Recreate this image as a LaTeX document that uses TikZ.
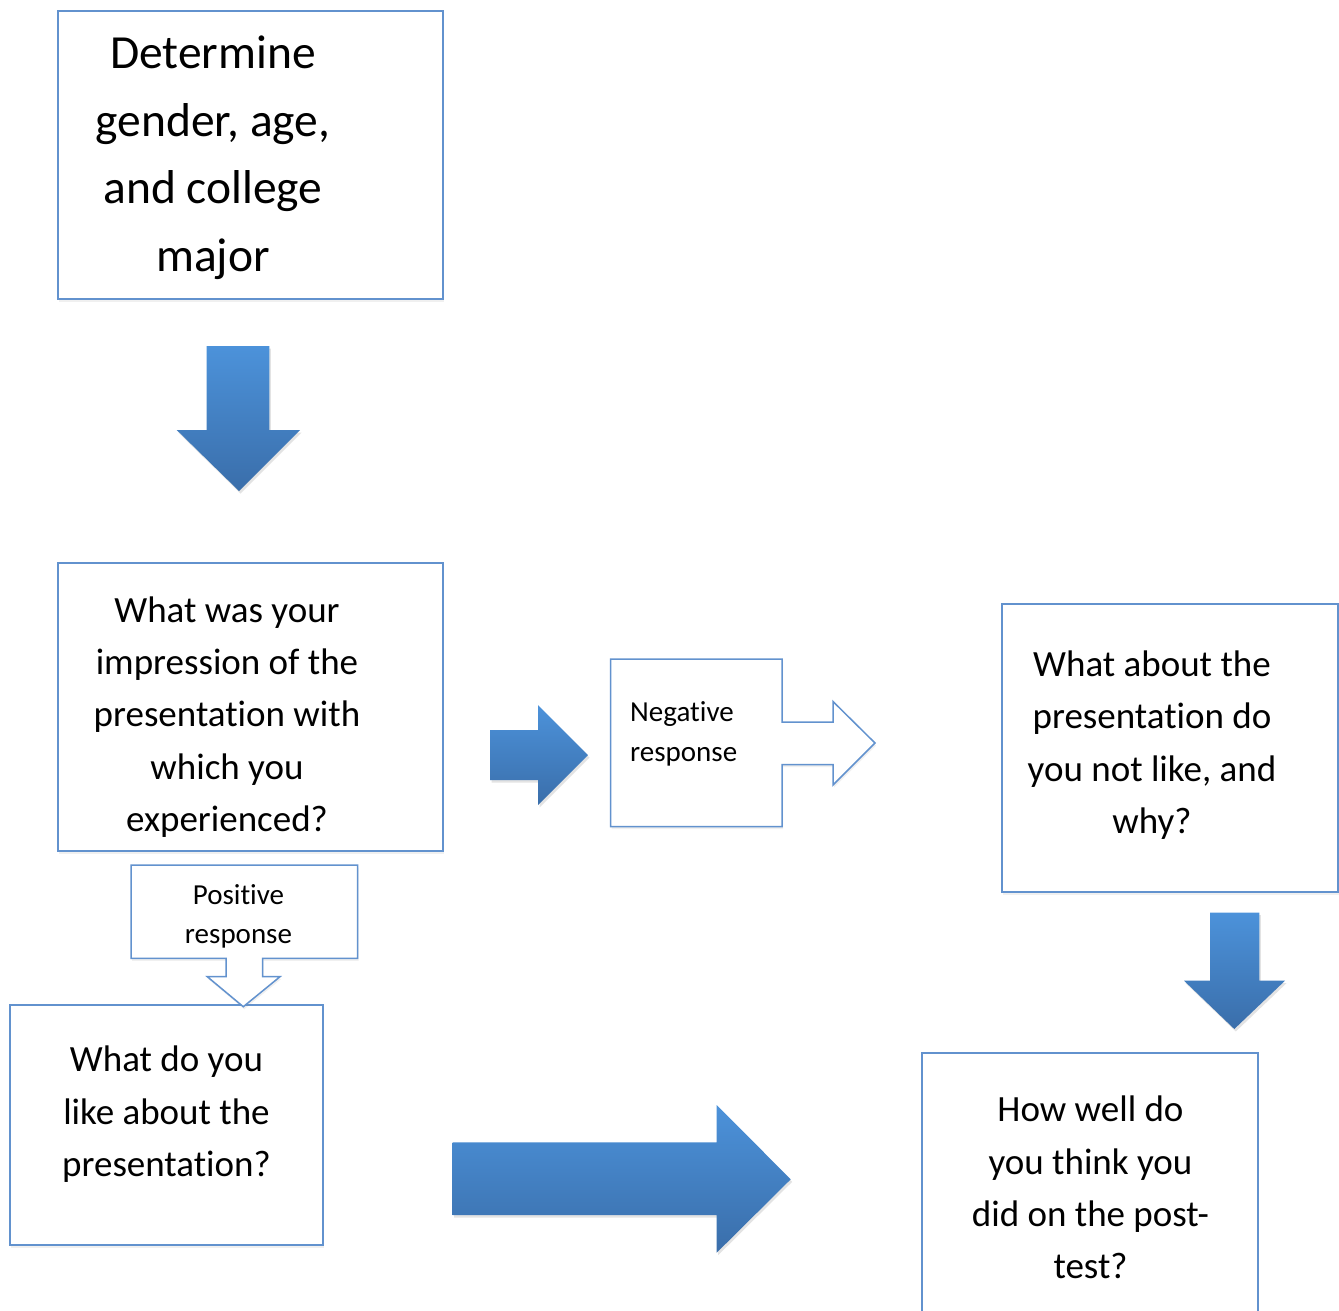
\documentclass[tikz,border=0pt]{standalone}
\usepackage{fontspec}
\setmainfont{Carlito}[Ligatures={NoCommon,NoRare,NoContextual}]
\usetikzlibrary{shadows}
\definecolor{boxline}{RGB}{98,146,206}
\definecolor{arrtop}{RGB}{76,146,218}
\definecolor{arrbot}{RGB}{58,110,170}
\begin{document}
\begin{tikzpicture}[x=1pt,y=-1pt,
  qbox/.style={draw=boxline, line width=1.5pt, fill=white, inner sep=0pt,
    drop shadow={opacity=0.12, shadow xshift=1pt, shadow yshift=-2.5pt}},
  callout/.style={draw=boxline, line width=1.5pt, fill=white, line join=miter,
    drop shadow={opacity=0.12, shadow xshift=1pt, shadow yshift=-2.5pt}},
  blockarrow/.style={top color=arrtop, bottom color=arrbot, draw=none,
    drop shadow={opacity=0.22, shadow xshift=1.5pt, shadow yshift=-2.5pt}},
  bigtext/.style={anchor=north, align=center, inner sep=0pt, font=\fontsize{47.5}{67.5}\selectfont},
  qtext/.style={anchor=north, align=center, inner sep=0pt, font=\fontsize{37}{52.3}\selectfont},
  smalltext/.style={inner sep=0pt, font=\fontsize{29}{39.7}\selectfont}
]
\useasboundingbox (0,0) rectangle (1339,1310);
\clip (0,0) rectangle (1339,1310);

% boxes
\node[qbox, minimum width=385pt, minimum height=288pt] (b1) at (250.5,155) {};
\node[qbox, minimum width=385pt, minimum height=288pt] (b2) at (250.5,707) {};
\node[qbox, minimum width=313pt, minimum height=240pt] (b3) at (166.5,1125) {};
\node[qbox, minimum width=336pt, minimum height=288pt] (b4) at (1170,748) {};
\node[qbox, minimum width=336pt, minimum height=300pt] (b5) at (1090,1203) {};

% texts
\node[bigtext] (t1) at (213,21.5) {\strut Determine\\gender, age,\\and college\\major};
\node[qtext] (t2) at (227,585.5) {\strut What was your\\impression of the\\presentation with\\which you\\experienced?};
\node[qtext] (t3) at (166.5,1035) {\strut What do you\\like about the\\presentation?};
\node[qtext] (t4) at (1152,639.8) {\strut What about the\\presentation do\\you not like, and\\why?};
\node[qtext] (t5) at (1090.5,1085) {\strut How well do\\you think you\\did on the post-\\test?};

% callouts
\draw[callout] (610.5,659) -- (782,659) -- (782,722) -- (833,722) -- (833,701.5)
  -- (875,743) -- (833,785) -- (833,764.5) -- (782,764.5) -- (782,826.5) -- (610.5,826.5) -- cycle;
\node[smalltext, anchor=north west, align=left] (tn) at (630,693.5) {\strut Negative\\response};

\draw[callout] (131,865) -- (357.5,865) -- (357.5,958.3) -- (262.7,958.3) -- (262.7,976.7)
  -- (280,976.7) -- (243.3,1006.7) -- (207.3,976.7) -- (226,976.7) -- (226,958.3) -- (131,958.3) -- cycle;
\node[smalltext, anchor=north, align=center] (tp) at (238.5,876.2) {\strut Positive\\response};

% block arrows
\path[blockarrow] (206.7,346) -- (269.3,346) -- (269.3,430) -- (300,430) -- (239,491)
  -- (176.7,430) -- (206.7,430) -- cycle;
\path[blockarrow] (490,730) -- (538,730) -- (538,705) -- (588,755) -- (538,805)
  -- (538,780) -- (490,780) -- cycle;
\path[blockarrow] (1210,912.7) -- (1259.3,912.7) -- (1259.3,980.7) -- (1285,980.7)
  -- (1234.3,1029) -- (1184,980.7) -- (1210,980.7) -- cycle;
\path[blockarrow] (452.7,1142.3) -- (716.7,1142.3) -- (716.7,1105) -- (790.7,1179.3)
  -- (716.7,1252.7) -- (716.7,1215) -- (452.7,1215) -- cycle;
\end{tikzpicture}
\end{document}
